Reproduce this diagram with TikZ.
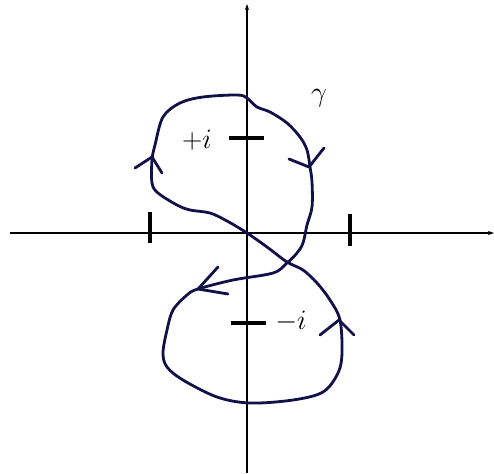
\documentclass[tikz,border=0pt]{standalone}
\usetikzlibrary{arrows.meta}
\definecolor{ink}{RGB}{18,16,72}
\newcommand{\biglab}[1]{\scalebox{1.13}{\fontsize{24.88}{30}\selectfont #1}}
\begin{document}
\begin{tikzpicture}[x=1pt,y=-1pt,
  axis/.style={line width=1.1pt,-{Stealth[length=6pt,width=4pt]}},
  tick/.style={line width=4pt},
  curve/.style={ink,line width=2.8pt,line join=round,line cap=round},
  lab/.style={inner sep=0pt}]
\useasboundingbox (0,0) rectangle (494,473);
% axes
\coordinate (xl) at (10,233);
\coordinate (xr) at (494,233);
\coordinate (yb) at (247,473);
\coordinate (yt) at (247,4);
\draw[axis] (xl) -- (xr);
\draw[axis] (yb) -- (yt);
% ticks
\draw[tick] (150,212) -- (150,243);
\draw[tick] (350,214) -- (350,246);
\draw[tick] (229,138) -- (264,138);
\draw[tick] (231,323) -- (266,323);
% labels
\node[lab] (pi) at (197,140) {\biglab{$+i$}};
\node[lab] (mi) at (291,321) {\biglab{$-i$}};
\node[lab] (g) at (319,98) {\biglab{$\gamma$}};
% curve
\draw[curve] plot[smooth cycle, tension=0.55] coordinates {
 (152,183) (152,160) (155,145) (163,117) (180,103) (203,97) (237,95)
 (247,98) (257,107) (270,112) (287,123) (300,137) (307,150) (310,167)
 (312,182) (312,207) (307,225) (303,243) (297,253) (287,263) (273,273)
 (233,280) (198,289) (187,295) (173,310) (167,330) (163,353) (167,367)
 (183,380) (217,397) (250,403) (293,400) (323,392) (338,373) (342,353)
 (340,320) (330,300) (317,283) (303,270) (287,262) (267,247) (247,233)
 (227,221) (210,213) (190,210) (177,205) (158,193)};
% arrow chevrons
\draw[curve] (135,168) -- (152,157) -- (162,173);
\draw[curve] (289,159) -- (309,167) -- (324,148);
\draw[curve] (218,267) -- (198,289) -- (228,294);
\draw[curve] (320,335) -- (339,320) -- (354,335);
\end{tikzpicture}
\end{document}
